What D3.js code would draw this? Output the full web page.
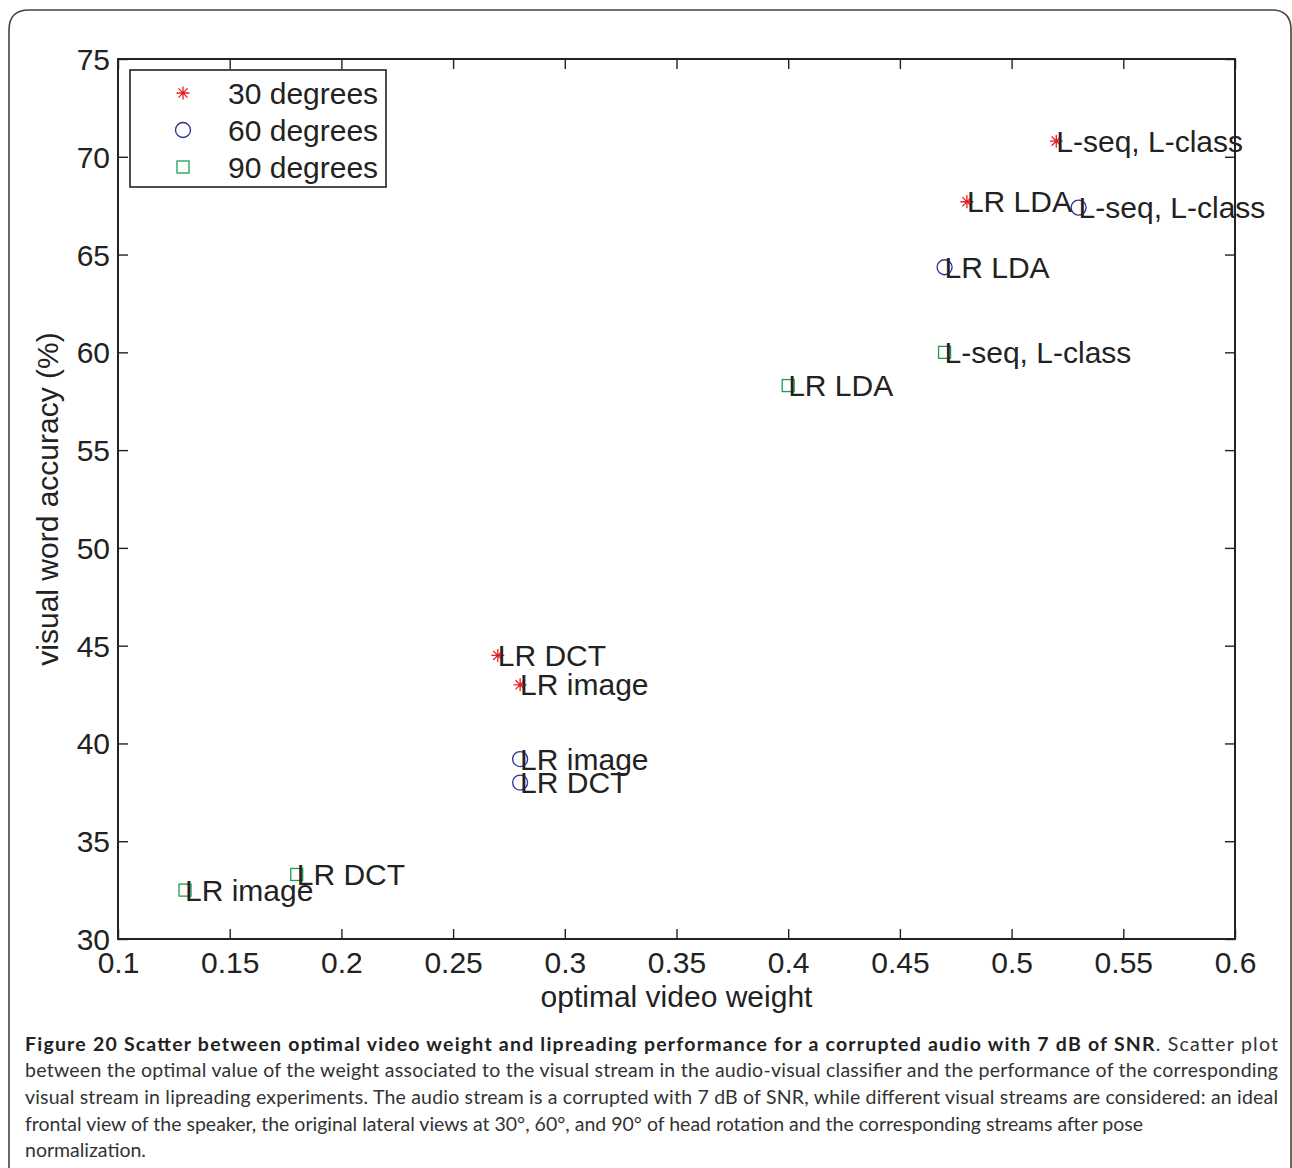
<!DOCTYPE html>
<html>
<head>
<meta charset="utf-8">
<script src="https://cdn.jsdelivr.net/npm/d3@7"></script>
<style>
  body { margin: 0; background: #fff; }
  svg { display: block; }
  .tick text { font-family: "Liberation Sans", Arial, sans-serif; font-size: 30px; fill: #222; }
  .label { font-family: "Liberation Sans", Arial, sans-serif; font-size: 30px; fill: #222; }
  .caption { font-family: Lato, "Open Sans", sans-serif; font-size: 19.5px; fill: #333; }
</style>
</head>
<body>
<div id="chart"></div>
<script>
// series names and the three data groups
var seriesNames = ["30 degrees", "60 degrees", "90 degrees"];

var weight30 = [0.52, 0.48, 0.27, 0.28];
var acc30    = [70.8, 67.7, 44.5, 43.0];
var names30  = ["L-seq, L-class", "LR LDA", "LR DCT", "LR image"];

var weight60 = [0.53, 0.47, 0.28, 0.28];
var acc60    = [67.4, 64.35, 39.2, 38.0];
var names60  = ["L-seq, L-class", "LR LDA", "LR image", "LR DCT"];

var weight90 = [0.47, 0.40, 0.13, 0.18];
var acc90    = [60.0, 58.3, 32.5, 33.3];
var names90  = ["L-seq, L-class", "LR LDA", "LR image", "LR DCT"];

var xTicks = [0.1, 0.15, 0.2, 0.25, 0.3, 0.35, 0.4, 0.45, 0.5, 0.55, 0.6];
var yTicks = [30, 35, 40, 45, 50, 55, 60, 65, 70, 75];

var captionBold = "Figure 20 Scatter between optimal video weight and lipreading performance for a corrupted audio with 7 dB of SNR";
var captionLines = [
  ". Scatter plot",
  "between the optimal value of the weight associated to the visual stream in the audio-visual classifier and the performance of the corresponding",
  "visual stream in lipreading experiments. The audio stream is a corrupted with 7 dB of SNR, while different visual streams are considered: an ideal",
  "frontal view of the speaker, the original lateral views at 30°, 60°, and 90° of head rotation and the corresponding streams after pose",
  "normalization."
];

var width = 1292, height = 1168;
var margin = {top: 59, right: 57, bottom: 229, left: 118};
var graphWidth = width - margin.left - margin.right;
var graphHeight = height - margin.top - margin.bottom;

var svg = d3.select("#chart")
  .append("svg")
  .attr("width", width)
  .attr("height", height);

// rounded frame around the figure
svg.append("path")
  .attr("d", "M9,1170 L9,30 Q9,10 29,10 L1272,10 Q1290,10 1291,28 L1291,1170")
  .attr("fill", "none")
  .attr("stroke", "#444")
  .attr("stroke-width", 1.6);

var g = svg.append("g")
  .attr("transform", "translate(" + margin.left + "," + margin.top + ")");

var x = d3.scaleLinear().domain([0.1, 0.6]).range([0, graphWidth]);
var y = d3.scaleLinear().domain([30, 75]).range([graphHeight, 0]);

var tickLen = 10;

function styleAxis(sel) {
  sel.select(".domain").remove();
  sel.selectAll(".tick line").attr("stroke", "#222").attr("stroke-width", 1.4);
}

// bottom axis (ticks inward)
g.append("g")
  .attr("transform", "translate(0," + graphHeight + ")")
  .call(d3.axisBottom(x).tickValues(xTicks).tickSize(-tickLen).tickPadding(18)
    .tickFormat(function(d) { return String(+d.toFixed(2)); }))
  .call(styleAxis)
  .selectAll("text").attr("dy", "0.71em").attr("y", 13);

// top axis
g.append("g")
  .call(d3.axisTop(x).tickValues(xTicks).tickSize(-tickLen).tickFormat(""))
  .call(styleAxis);

// left axis
g.append("g")
  .call(d3.axisLeft(y).tickValues(yTicks).tickSize(-tickLen).tickPadding(8))
  .call(styleAxis)
  .selectAll("text").attr("x", -8).attr("dy", "0.35em");

// right axis
g.append("g")
  .attr("transform", "translate(" + graphWidth + ",0)")
  .call(d3.axisRight(y).tickValues(yTicks).tickSize(-tickLen).tickFormat(""))
  .call(styleAxis);

// plot box
g.append("rect")
  .attr("width", graphWidth)
  .attr("height", graphHeight)
  .attr("fill", "none")
  .attr("stroke", "#222")
  .attr("stroke-width", 2);

// axis labels
g.append("text")
  .attr("class", "label")
  .attr("x", graphWidth / 2)
  .attr("y", 1007 - margin.top)
  .style("text-anchor", "middle")
  .text("optimal video weight");

g.append("text")
  .attr("class", "label")
  .attr("transform", "translate(" + (58 - margin.left) + "," + (graphHeight / 2) + ")rotate(-90)")
  .style("text-anchor", "middle")
  .text("visual word accuracy (%)");

// marker shapes
function starPath(r) {
  var d = "";
  for (var a = 0; a < 4; a++) {
    var t = a * Math.PI / 4;
    var dx = r * Math.cos(t), dy = r * Math.sin(t);
    d += "M" + (-dx) + "," + (-dy) + "L" + dx + "," + dy;
  }
  return d;
}
var markers = [
  {color: "#ec1c24", draw: function(sel) {
      sel.append("path").attr("d", starPath(6.5)).attr("stroke", "#ec1c24").attr("stroke-width", 1.3).attr("fill", "none");
  }},
  {color: "#2e3192", draw: function(sel) {
      sel.append("circle").attr("r", 7.5).attr("stroke", "#2e3192").attr("stroke-width", 1.3).attr("fill", "none");
  }},
  {color: "#1aa04a", draw: function(sel) {
      sel.append("rect").attr("x", -6).attr("y", -6).attr("width", 12).attr("height", 12)
        .attr("stroke", "#1aa04a").attr("stroke-width", 1.3).attr("fill", "none");
  }}
];

var groups = [
  {w: weight30, a: acc30, n: names30},
  {w: weight60, a: acc60, n: names60},
  {w: weight90, a: acc90, n: names90}
];

// Plot points and their text labels
groups.forEach(function(grp, s) {
  var pts = grp.w.map(function(w, i) { return {w: w, a: grp.a[i], name: grp.n[i]}; });
  var sel = g.selectAll(".pt" + s)
    .data(pts)
    .enter()
    .append("g")
    .attr("class", "pt" + s)
    .attr("transform", function(d) { return "translate(" + x(d.w) + "," + y(d.a) + ")"; });
  markers[s].draw(sel);
});

groups.forEach(function(grp, s) {
  var pts = grp.w.map(function(w, i) { return {w: w, a: grp.a[i], name: grp.n[i]}; });
  g.selectAll(".lab" + s)
    .data(pts)
    .enter()
    .append("text")
    .attr("class", "label lab" + s)
    .attr("x", function(d) { return x(d.w); })
    .attr("y", function(d) { return y(d.a); })
    .attr("dy", "0.35em")
    .text(function(d) { return d.name; });
});

// legend
var legend = g.append("g").attr("transform", "translate(" + (130 - margin.left) + "," + (70 - margin.top) + ")");
legend.append("rect")
  .attr("width", 256)
  .attr("height", 117)
  .attr("fill", "#fff")
  .attr("stroke", "#222")
  .attr("stroke-width", 1.6);
seriesNames.forEach(function(name, i) {
  var row = legend.append("g").attr("transform", "translate(0," + (23 + i * 37) + ")");
  markers[i].draw(row.append("g").attr("transform", "translate(53,0)"));
  row.append("text")
    .attr("class", "label")
    .attr("x", 98)
    .attr("dy", "0.35em")
    .text(name);
});

// caption
var capX = 25, capRight = 1278;
var baselines = [1051, 1077, 1104, 1131, 1157];
var first = svg.append("text")
  .attr("class", "caption")
  .attr("x", capX)
  .attr("y", baselines[0])
  .attr("textLength", capRight - capX)
  .attr("lengthAdjust", "spacing");
first.append("tspan").style("font-weight", "bold").style("fill", "#222").text(captionBold);
first.append("tspan").text(captionLines[0]);

captionLines.slice(1).forEach(function(line, i) {
  var t = svg.append("text")
    .attr("class", "caption")
    .attr("x", capX)
    .attr("y", baselines[i + 1])
    .text(line);
  if (i < 2) {
    t.attr("textLength", capRight - capX).attr("lengthAdjust", "spacing");
  }
});
</script>
</body>
</html>
